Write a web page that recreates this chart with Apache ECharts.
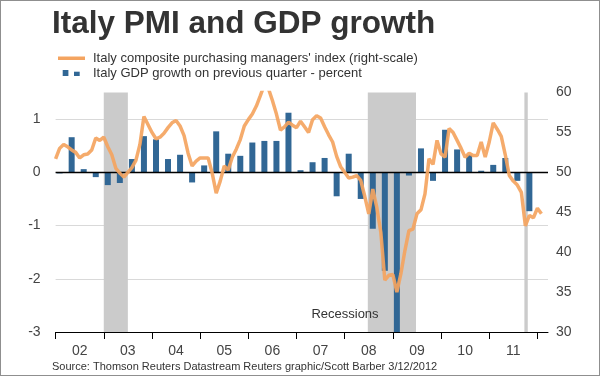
<!DOCTYPE html>
<html>
<head>
<meta charset="utf-8">
<script src="https://cdn.jsdelivr.net/npm/echarts@6.0.0/dist/echarts.min.js"></script>
<style>
  html, body { margin: 0; padding: 0; background: #fff; }
  #main { width: 600px; height: 376px; }
  #frame { position: absolute; left: 0; top: 0; width: 600px; height: 376px; box-sizing: border-box; border: 1px solid #8f8f8f; pointer-events: none; }
</style>
</head>
<body>
<div id="main"></div>
<div id="frame"></div>
<script>
// monthly PMI, Jan 2002 .. Feb 2012 (right scale)
var pmi = [
  51.7, 53.0, 53.5, 53.2, 52.8, 52.5, 51.8, 52.2, 52.3, 52.8, 54.3, 54.0,
  54.4, 53.2, 52.2, 50.5, 49.9, 49.4, 50.0, 50.6, 51.5, 53.5, 57.0, 56.0,
  55.0, 54.2, 54.4, 54.9, 55.6, 56.2, 56.5, 55.8, 54.6, 52.4, 50.8, 51.4,
  51.8, 51.8, 51.8, 49.9, 47.4, 48.9, 50.8, 50.3, 51.9, 52.9, 54.1, 55.8,
  56.6, 57.3, 58.3, 59.6, 61.0, 60.5, 59.0, 57.3, 55.3, 55.7, 56.3, 55.9,
  55.6, 56.4, 55.7, 55.0, 56.6, 57.1, 56.8, 55.7, 54.7, 53.8, 52.0, 50.7,
  50.0, 49.3, 49.4, 49.6, 49.0, 47.0, 44.8, 47.9, 45.6, 42.5, 36.5, 37.1,
  37.2, 35.0, 37.3, 40.2, 42.7, 42.9, 44.8, 45.3, 47.3, 51.7, 51.0, 54.0,
  52.3, 51.9, 55.5, 55.0, 54.0, 53.0, 51.9, 52.4, 52.1, 52.1, 53.8, 51.9,
  53.8, 56.2, 55.4, 54.5, 52.2, 49.6, 48.9, 48.4, 47.5, 43.3, 44.6, 44.3,
  45.5, 44.8
];
// quarterly GDP growth q/q, 2002Q1 .. 2011Q4 (left scale)
var gdp = [
  -0.02, 0.66, 0.06, -0.09,
  -0.24, -0.20, 0.25, 0.68,
  0.62, 0.25, 0.33, -0.19,
  0.13, 0.77, 0.35, 0.31,
  0.56, 0.59, 0.59, 1.12,
  0.04, 0.19, 0.27, -0.45,
  0.35, -0.50, -1.06, -1.85,
  -3.00, -0.06, 0.45, -0.16,
  0.80, 0.43, 0.33, 0.03,
  0.14, 0.27, -0.16, -0.73
];
var yearLabels = ['02', '03', '04', '05', '06', '07', '08', '09', '10', '11'];
var recessions = [[2003.0, 2003.5], [2008.48, 2009.48], [2011.73, 2011.8]];

var font = "'Liberation Sans', Arial, sans-serif";
var pmiData = pmi.map(function (v, i) { return [2002 + i / 12, v]; });
var gdpData = gdp.map(function (v, i) { return [2002 + (3 * i + 1) / 12, v]; });
var tickVals = [], labelVals = [];
for (var k = 0; k <= yearLabels.length; k++) {
  tickVals.push(2002 + k);
  if (k < yearLabels.length) labelVals.push(2002.5 + k);
}

var chart = echarts.init(document.getElementById('main'), null, { renderer: 'canvas' });
chart.setOption({
  animation: false,
  backgroundColor: '#fff',
  textStyle: { fontFamily: font },
  grid: { left: 55.6, right: 52, top: 92.5, bottom: 44 },
  xAxis: {
    type: 'value',
    min: 2002,
    max: 2012.22,
    axisLine: { onZero: false, lineStyle: { color: '#000', width: 1 } },
    axisTick: { customValues: tickVals, length: 7, lineStyle: { color: '#000' } },
    axisLabel: {
      customValues: labelVals,
      margin: 12,
      fontSize: 14,
      color: '#444',
      fontFamily: font,
      formatter: function (v) { return yearLabels[Math.round(v - 2002.5)]; }
    },
    splitLine: { show: false }
  },
  yAxis: [{
    type: 'value',
    min: -3,
    max: 1.5,
    interval: 1,
    axisLine: { show: false },
    axisTick: { show: false },
    axisLabel: { showMaxLabel: false, margin: 15, fontSize: 14, color: '#444', fontFamily: font },
    splitLine: { showMinLine: false, showMaxLine: false, lineStyle: { color: '#d9d9d9', width: 1 } }
  }, {
    type: 'value',
    position: 'right',
    min: 30,
    max: 60,
    interval: 5,
    axisLine: { show: false },
    axisTick: { show: false },
    axisLabel: { margin: 8, fontSize: 14, color: '#444', fontFamily: font },
    splitLine: { show: false }
  }],
  series: [{
    name: 'Italy GDP growth on previous quarter - percent',
    type: 'bar',
    yAxisIndex: 0,
    data: gdpData,
    barWidth: 6,
    z: 2,
    itemStyle: { color: '#316795' },
    markArea: {
      silent: true,
      z: 1,
      itemStyle: { color: '#cbcbcb' },
      data: recessions.map(function (r) { return [{ xAxis: r[0] }, { xAxis: r[1] }]; })
    },
    markLine: {
      silent: true,
      z: 3,
      symbol: ['none', 'none'],
      label: { show: false },
      lineStyle: { color: '#000', width: 1.4, type: 'solid' },
      data: [{ yAxis: 0 }]
    }
  }, {
    name: "Italy composite purchasing managers' index (right-scale)",
    type: 'line',
    yAxisIndex: 1,
    data: pmiData,
    z: 10,
    showSymbol: false,
    clip: true,
    lineStyle: { color: '#f4a460', width: 3.5, opacity: 0.92 }
  }],
  graphic: [
    { type: 'text', z: 100, left: 52, top: 8, style: { text: 'Italy PMI and GDP growth', font: 'bold 31.5px ' + font, fill: '#333' } },
    { type: 'rect', z: 100, shape: { x: 58, y: 56.5, width: 27, height: 3.5 }, style: { fill: '#f4a460' } },
    { type: 'text', z: 100, x: 93, y: 58.5, style: { text: "Italy composite purchasing managers' index (right-scale)", font: '13px ' + font, fill: '#333', verticalAlign: 'middle' } },
    { type: 'rect', z: 100, shape: { x: 62.7, y: 70, width: 5.7, height: 6 }, style: { fill: '#316795' } },
    { type: 'rect', z: 100, shape: { x: 74, y: 71.7, width: 5.7, height: 4.3 }, style: { fill: '#316795' } },
    { type: 'text', z: 100, x: 93, y: 73.5, style: { text: 'Italy GDP growth on previous quarter - percent', font: '13px ' + font, fill: '#333', verticalAlign: 'middle' } },
    { type: 'text', z: 100, x: 345, y: 314, style: { text: 'Recessions', font: '13px ' + font, fill: '#333', align: 'center', verticalAlign: 'middle' } },
    { type: 'text', z: 100, x: 52, y: 367, style: { text: 'Source: Thomson Reuters Datastream Reuters graphic/Scott Barber 3/12/2012', font: '11px ' + font, fill: '#333', verticalAlign: 'middle' } }
  ]
});
</script>
</body>
</html>
